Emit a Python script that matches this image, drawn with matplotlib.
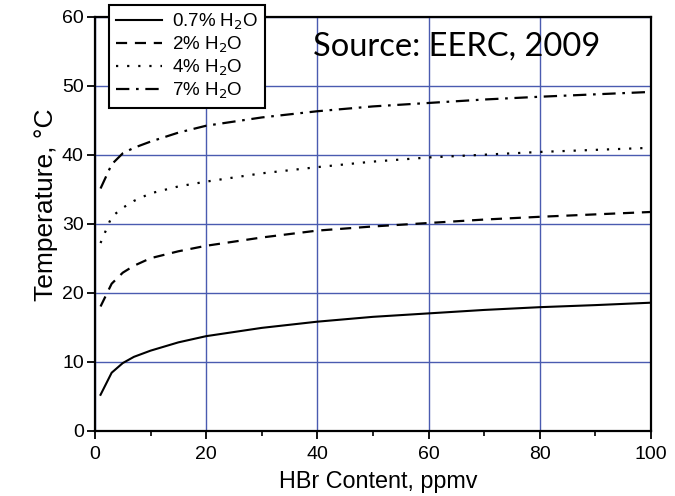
import matplotlib
matplotlib.use("Agg")
import matplotlib.pyplot as plt
from matplotlib.ticker import MultipleLocator

plt.rcParams['font.family'] = ['Liberation Sans', 'DejaVu Sans']

# HBr content, ppmv
hbr = [1, 3, 5, 7, 10, 15, 20, 30, 40, 50, 60, 70, 80, 90, 100]
# temperature (C) for each moisture level
t_07 = [5.2, 8.4, 9.8, 10.7, 11.6, 12.8, 13.7, 14.9, 15.8, 16.5, 17.0, 17.5, 17.9, 18.2, 18.55]
t_2 = [18.0, 21.3, 22.9, 23.9, 25.0, 26.0, 26.8, 28.0, 29.0, 29.6, 30.1, 30.6, 31.0, 31.35, 31.7]
t_4 = [27.2, 31.0, 32.3, 33.3, 34.4, 35.4, 36.1, 37.3, 38.2, 39.0, 39.6, 40.0, 40.4, 40.7, 41.0]
t_7 = [35.1, 38.6, 40.2, 41.0, 41.9, 43.2, 44.2, 45.4, 46.3, 47.0, 47.5, 48.0, 48.4, 48.75, 49.1]
labels = ['0.7% H$_2$O', '2% H$_2$O', '4% H$_2$O', '7% H$_2$O']

fig = plt.figure(figsize=(6.75, 4.96), dpi=100)
ax = fig.add_axes([0.1407, 0.1317, 0.8237, 0.8346])

ax.plot(hbr, t_07, color='black', lw=1.5, ls='-', label=labels[0])
ax.plot(hbr, t_2, color='black', lw=1.6, ls=(0, (5, 3.5)), label=labels[1])
ax.plot(hbr, t_4, color='black', lw=1.6, ls=(0, (1, 4)), label=labels[2])
ax.plot(hbr, t_7, color='black', lw=1.6, ls=(0, (6, 3, 1.2, 3)), label=labels[3])

ax.set_xlim(0, 100)
ax.set_ylim(0, 60)
ax.xaxis.set_major_locator(MultipleLocator(20))
ax.xaxis.set_minor_locator(MultipleLocator(10))
ax.yaxis.set_major_locator(MultipleLocator(10))
ax.tick_params(which='major', direction='out', length=6, width=1.3, labelsize=14, colors='black')
ax.tick_params(axis='x', which='major', pad=5)
ax.tick_params(axis='y', which='major', pad=2)
ax.tick_params(which='minor', direction='out', length=3.5, width=1.2)
ax.grid(True, which='major', color='#4a5bb0', lw=1.0)
ax.set_axisbelow(True)
for s in ax.spines.values():
    s.set_linewidth(1.6)

ax.set_xlabel('HBr Content, ppmv', fontsize=16.8)
ax.xaxis.set_label_coords(0.51, -0.122, transform=ax.transAxes)
ax.xaxis.label.set_va('center')
ax.set_ylabel('Temperature, °C', fontsize=19)
ax.yaxis.set_label_coords(-0.088, 0.545, transform=ax.transAxes)
ax.yaxis.label.set_va('center')

leg = fig.legend(loc='upper left', bbox_to_anchor=(0.1615, 0.99), borderaxespad=0, fontsize=13.5,
                 frameon=True, fancybox=False, edgecolor='black', framealpha=1,
                 handlelength=2.5, labelspacing=0.15, borderpad=0.35, handletextpad=0.5)
leg.get_frame().set_linewidth(1.5)

fig.text(0.4637, 0.889, 'Source: EERC, 2009', fontsize=23.5, family=['Lato', 'DejaVu Sans'],
         va='baseline', ha='left')

fig.savefig('out.png', dpi=100)
